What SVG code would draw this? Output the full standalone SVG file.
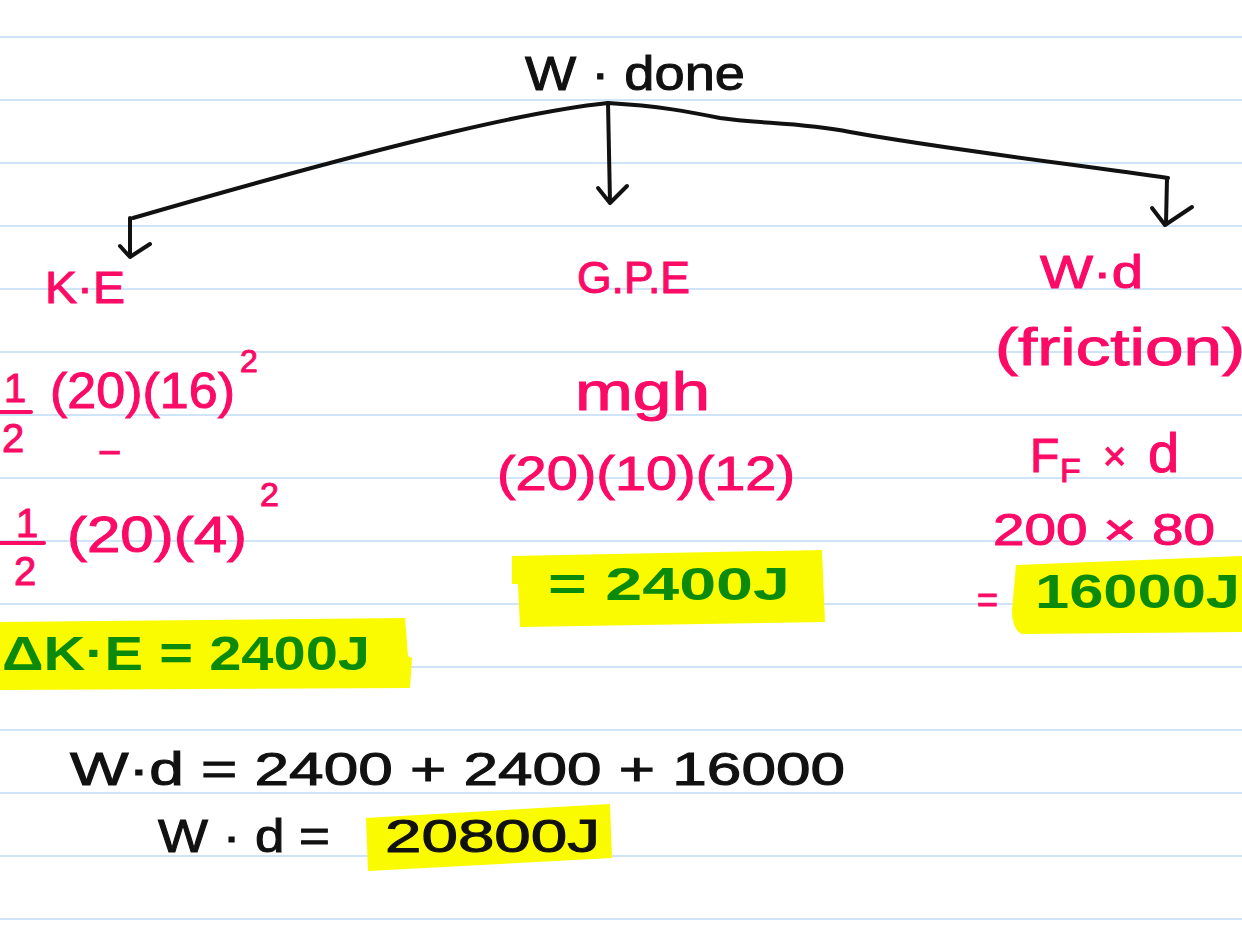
<svg xmlns="http://www.w3.org/2000/svg" width="1242" height="948" viewBox="0 0 1242 948">
<style>
.rule{stroke:#cfe5f7;stroke-width:2}
.ink{fill:#111;stroke:#111;stroke-width:1;font-family:"Liberation Sans",Arial,sans-serif}
.pink{fill:#fb0a66;stroke:#fb0a66;stroke-width:1;font-family:"Liberation Sans",Arial,sans-serif}
.green{fill:#0b8a0b;font-family:"Liberation Sans",Arial,sans-serif;font-weight:bold}
.hl{fill:#fbfb00}
.conn{fill:none;stroke:#111;stroke-width:4;stroke-linecap:round;stroke-linejoin:round}
.bar{stroke:#fb0a66;stroke-width:4;stroke-linecap:round}
</style>
<rect width="1242" height="948" fill="#fff"/>
<g id="rules">
<line class="rule" x1="0" y1="37" x2="1242" y2="37"/>
<line class="rule" x1="0" y1="100" x2="1242" y2="100"/>
<line class="rule" x1="0" y1="163" x2="1242" y2="163"/>
<line class="rule" x1="0" y1="226" x2="1242" y2="226"/>
<line class="rule" x1="0" y1="289" x2="1242" y2="289"/>
<line class="rule" x1="0" y1="352" x2="1242" y2="352"/>
<line class="rule" x1="0" y1="415" x2="1242" y2="415"/>
<line class="rule" x1="0" y1="478" x2="1242" y2="478"/>
<line class="rule" x1="0" y1="541" x2="1242" y2="541"/>
<line class="rule" x1="0" y1="604" x2="1242" y2="604"/>
<line class="rule" x1="0" y1="667" x2="1242" y2="667"/>
<line class="rule" x1="0" y1="730" x2="1242" y2="730"/>
<line class="rule" x1="0" y1="793" x2="1242" y2="793"/>
<line class="rule" x1="0" y1="856" x2="1242" y2="856"/>
<line class="rule" x1="0" y1="919" x2="1242" y2="919"/>
</g>
<g id="highlights">
<path class="hl" d="M0,622 L405,618 L408,656 L412,658 L410,688 L0,690 Z"/>
<path class="hl" d="M512,556 L822,550 L825,622 L520,627 L518,584 L512,584 Z"/>
<path class="hl" d="M1016,565 L1242,556 L1242,632 L1022,634 Q1012,630 1012,610 Z"/>
<path class="hl" d="M366,818 L610,804 L612,858 L368,871 Z"/>
</g>
<g id="connectors">
<path class="conn" d="M608,103 C540,110 420,135 133,218"/>
<path class="conn" d="M130,218 L130,256 M120,246 L130,257 L150,244"/>
<path class="conn" d="M608,103 L610,202 M598,188 L610,203 L627,186"/>
<path class="conn" d="M608,103 C660,106 690,112 720,118 C760,124 800,122 850,132 C950,150 1080,165 1168,178"/>
<path class="conn" d="M1167,178 L1166,224 M1152,208 L1165,225 L1192,207"/>
</g>
<g id="node-wdone">
<text class="ink" x="525" y="90" font-size="48" textLength="220" lengthAdjust="spacingAndGlyphs">W · done</text>
</g>
<g id="node-ke">
<text class="pink" x="45" y="303" font-size="44" textLength="80" lengthAdjust="spacingAndGlyphs">K·E</text>
<text class="pink" x="15" y="402" font-size="40" text-anchor="middle">1</text>
<line class="bar" x1="0" y1="412" x2="31" y2="412"/>
<text class="pink" x="13" y="452" font-size="40" text-anchor="middle">2</text>
<text class="pink" x="50" y="408" font-size="50" textLength="185" lengthAdjust="spacingAndGlyphs">(20)(16)</text>
<text class="pink" x="240" y="372" font-size="32">2</text>
<text class="pink" x="98" y="466" font-size="40">−</text>
<text class="pink" x="27" y="537" font-size="40" text-anchor="middle">1</text>
<line class="bar" x1="0" y1="543" x2="44" y2="543"/>
<text class="pink" x="25" y="585" font-size="40" text-anchor="middle">2</text>
<text class="pink" x="67" y="552" font-size="50" textLength="180" lengthAdjust="spacingAndGlyphs">(20)(4)</text>
<text class="pink" x="260" y="506" font-size="34">2</text>
<text class="green" x="2" y="670" font-size="48" textLength="368" lengthAdjust="spacingAndGlyphs">ΔK·E = 2400J</text>
</g>
<g id="node-gpe">
<text class="pink" x="577" y="293" font-size="44" textLength="113" lengthAdjust="spacingAndGlyphs">G.P.E</text>
<text class="pink" x="575" y="410" font-size="54" textLength="135" lengthAdjust="spacingAndGlyphs">mgh</text>
<text class="pink" x="497" y="490" font-size="48" textLength="298" lengthAdjust="spacingAndGlyphs">(20)(10)(12)</text>
<text class="green" x="548" y="600" font-size="46" textLength="242" lengthAdjust="spacingAndGlyphs">= 2400J</text>
</g>
<g id="node-wd">
<text class="pink" x="1040" y="288" font-size="46" textLength="103" lengthAdjust="spacingAndGlyphs">W·d</text>
<text class="pink" x="995" y="365" font-size="52" textLength="250" lengthAdjust="spacingAndGlyphs">(friction)</text>
<text class="pink" x="1030" y="472" font-size="48">F<tspan x="1060" y="482" font-size="34">F</tspan><tspan x="1103" y="470" font-size="40">×</tspan><tspan x="1148" y="472" font-size="56">d</tspan></text>
<text class="pink" x="993" y="545" font-size="44" textLength="222" lengthAdjust="spacingAndGlyphs">200 × 80</text>
<text class="pink" x="977" y="612" font-size="36">=</text>
<text class="green" x="1035" y="608" font-size="48" textLength="205" lengthAdjust="spacingAndGlyphs">16000J</text>
</g>
<g id="node-total">
<text class="ink" x="70" y="785" font-size="46" textLength="775" lengthAdjust="spacingAndGlyphs">W·d = 2400 + 2400 + 16000</text>
<text class="ink" x="158" y="852" font-size="46" textLength="172" lengthAdjust="spacingAndGlyphs">W · d =</text>
<text class="ink" x="385" y="852" font-size="46" textLength="215" lengthAdjust="spacingAndGlyphs">20800J</text>
</g>
</svg>
